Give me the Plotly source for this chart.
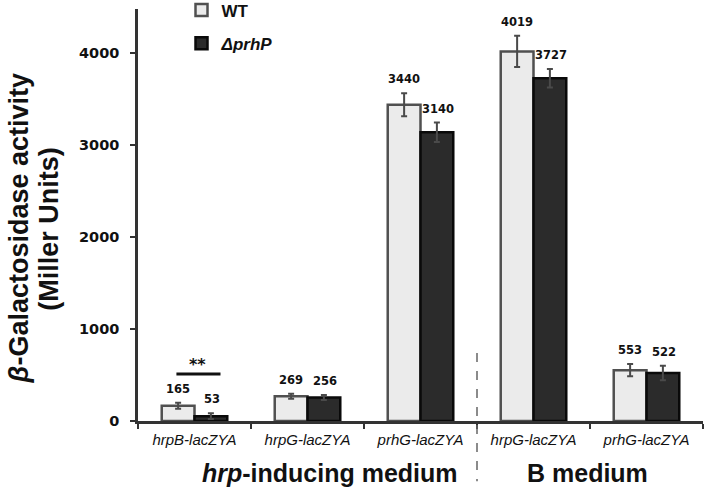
import plotly.graph_objects as go

categories = ["hrpB-lacZYA", "hrpG-lacZYA", "prhG-lacZYA", "hrpG-lacZYA ", "prhG-lacZYA "]
tick_labels = ["hrpB-lacZYA", "hrpG-lacZYA", "prhG-lacZYA", "hrpG-lacZYA", "prhG-lacZYA"]
wt_values = [165, 269, 3440, 4019, 553]
wt_errors = [33, 28, 125, 170, 67]
dp_values = [53, 256, 3140, 3727, 522]
dp_errors = [30, 28, 105, 100, 80]
y_ticks = [0, 1000, 2000, 3000, 4000]
sig_level = 510

FONT = "DejaVu Sans"
SANS = "Liberation Sans"

fig = go.Figure()
fig.add_trace(go.Bar(
    x=categories, y=wt_values, name="WT", legendgroup="a",
    marker=dict(color="#ebebeb", line=dict(color="#505050", width=2.5)),
    error_y=dict(type="data", array=wt_errors, color="#4a4a4a", thickness=2, width=3),
))
fig.add_trace(go.Bar(
    x=categories, y=dp_values, name="<i>ΔprhP</i>", legendgroup="b",
    marker=dict(color="#2b2b2b", line=dict(color="#0a0a0a", width=2.5)),
    error_y=dict(type="data", array=dp_errors, color="#4a4a4a", thickness=2, width=3),
))

ann = []
for c, v, e in zip(categories, wt_values, wt_errors):
    ann.append(dict(x=c, y=v + e, xref="x", yref="y", text=str(v), showarrow=False,
                    xshift=-16.5, yshift=5, yanchor="bottom",
                    font=dict(family=FONT, size=11.5, color="#111", weight="bold")))
for c, v, e in zip(categories, dp_values, dp_errors):
    ann.append(dict(x=c, y=v + e, xref="x", yref="y", text=str(v), showarrow=False,
                    xshift=17.5, yshift=5, yanchor="bottom",
                    font=dict(family=FONT, size=11.5, color="#111", weight="bold")))

# significance
ann.append(dict(x=0.03, y=sig_level, xref="x", yref="y", text="**", showarrow=False,
                yanchor="bottom", yshift=-2,
                font=dict(family=FONT, size=16, color="#111", weight="bold")))

# group labels
ann.append(dict(x=0.34, y=-0.125, xref="paper", yref="paper", text="<i>hrp</i>-inducing medium",
                showarrow=False, xanchor="center", yanchor="middle",
                font=dict(family=SANS, size=25, color="#111", weight="bold")))
ann.append(dict(x=0.796, y=-0.125, xref="paper", yref="paper", text="B medium",
                showarrow=False, xanchor="center", yanchor="middle",
                font=dict(family=SANS, size=25, color="#111", weight="bold")))

# y-axis title
ann.append(dict(x=-0.211, y=0.467, xref="paper", yref="paper", text="<i>β</i>-Galactosidase activity",
                showarrow=False, textangle=-90, xanchor="center", yanchor="middle",
                font=dict(family=SANS, size=27, color="#111", weight="bold")))
ann.append(dict(x=-0.159, y=0.467, xref="paper", yref="paper", text="(Miller Units)",
                showarrow=False, textangle=-90, xanchor="center", yanchor="middle",
                font=dict(family=SANS, size=27, color="#111", weight="bold")))

shapes = [
    dict(type="line", xref="x", yref="y", x0=-0.16, x1=0.23, y0=sig_level, y1=sig_level,
         line=dict(color="#111", width=3)),
    dict(type="line", xref="paper", yref="paper", x0=0.6, x1=0.6, y0=0.165, y1=-0.146,
         line=dict(color="#666", width=1.5, dash="dash")),
]

fig.update_layout(
    width=709, height=492,
    margin=dict(l=138, r=6, t=9, b=71, autoexpand=False),
    paper_bgcolor="white", plot_bgcolor="white",
    barmode="group", bargap=0.42, bargroupgap=0,
    showlegend=True,
    legend=dict(x=0.077, y=1.04, xanchor="left", yanchor="top", bgcolor="rgba(0,0,0,0)",
                traceorder="grouped", tracegroupgap=8,
                font=dict(family=SANS, size=17, color="#111", weight="bold")),
    annotations=ann, shapes=shapes,
    font=dict(family=FONT, color="#111"),
)
fig.update_xaxes(
    type="category", categoryarray=categories, tickvals=categories, ticktext=tick_labels,
    range=[-0.5, 4.5], showline=True, linecolor="#333", linewidth=2.5,
    ticks="outside", tickson="boundaries", ticklen=5, tickwidth=2, tickcolor="#333",
    ticklabelstandoff=3,
    tickfont=dict(family=SANS, size=15, color="#111", style="italic"),
    showgrid=False, zeroline=False,
)
fig.update_yaxes(
    range=[0, 4480], tickvals=y_ticks, showline=True, linecolor="#333", linewidth=2.5,
    ticks="outside", ticklen=5, tickwidth=2, tickcolor="#333", ticklabelstandoff=8,
    tickfont=dict(family=FONT, size=14.5, color="#111", weight="bold"),
    showgrid=False, zeroline=False,
)

fig.write_html("out.html", config={"displayModeBar": False},
               post_script="document.body.style.margin='0';")
